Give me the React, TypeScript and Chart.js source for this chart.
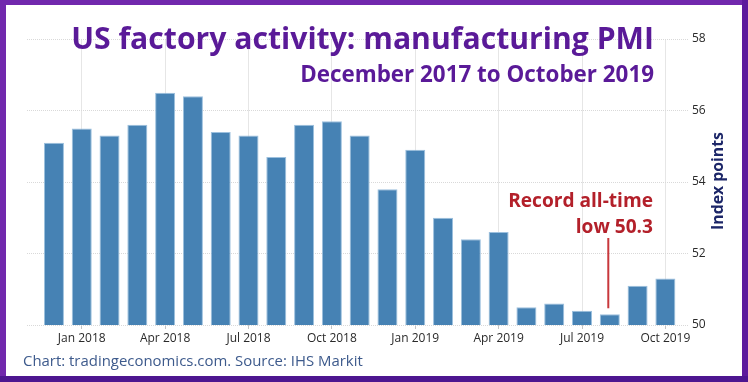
import React, { useEffect, useRef } from "react";
import { Chart, registerables } from "chart.js";

Chart.register(...registerables);

const monthLabels = [
  "Dec 2017", "Jan 2018", "Feb 2018", "Mar 2018", "Apr 2018", "May 2018", "Jun 2018",
  "Jul 2018", "Aug 2018", "Sep 2018", "Oct 2018", "Nov 2018", "Dec 2018", "Jan 2019",
  "Feb 2019", "Mar 2019", "Apr 2019", "May 2019", "Jun 2019", "Jul 2019", "Aug 2019",
  "Sep 2019", "Oct 2019",
];
const pmiValues = [
  55.1, 55.5, 55.3, 55.6, 56.5, 56.4, 55.4, 55.3, 54.7, 55.6, 55.7, 55.3, 53.8, 54.9,
  53.0, 52.4, 52.6, 50.5, 50.6, 50.4, 50.3, 51.1, 51.3,
];
const quarterTickIndices = [1, 4, 7, 10, 13, 16, 19, 22];
const yTickValues = [50, 52, 54, 56, 58];
const titleText = "US factory activity: manufacturing PMI";
const subtitleText = "December 2017 to October 2019";
const annotationLines = ["Record all-time", "low 50.3"];
const annotationIndex = 20;
const axisTitle = "Index points";
const footerText = "Chart: tradingeconomics.com. Source: IHS Markit";

const W = 748;
const H = 382;

function fitFont(ctx: CanvasRenderingContext2D, text: string, weight: string, family: string, targetWidth: number) {
  ctx.font = `${weight} 20px ${family}`;
  const w = ctx.measureText(text).width;
  const size = (20 * targetWidth) / w;
  return `${weight} ${size.toFixed(2)}px ${family}`;
}

const decorPlugin = {
  id: "decor",
  beforeDraw(chart: any) {
    const ctx = chart.ctx;
    ctx.save();
    ctx.fillStyle = "#ffffff";
    ctx.fillRect(0, 0, W, H);
    ctx.restore();
  },
  afterDraw(chart: any) {
    const ctx: CanvasRenderingContext2D = chart.ctx;
    const xs = chart.scales.x;
    const ys = chart.scales.y;
    ctx.save();
    const fam = "'Open Sans', sans-serif";

    // Title
    ctx.fillStyle = "#5a1a98";
    ctx.textAlign = "right";
    ctx.textBaseline = "alphabetic";
    ctx.font = fitFont(ctx, titleText, "bold", fam, 583);
    ctx.fillText(titleText, 654, 49);
    ctx.font = fitFont(ctx, subtitleText, "bold", fam, 354);
    ctx.fillText(subtitleText, 654, 82);

    // Annotation
    ctx.fillStyle = "#b3202a";
    ctx.font = fitFont(ctx, annotationLines[0], "bold", fam, 145);
    ctx.fillText(annotationLines[0], 653, 207);
    ctx.fillText(annotationLines[1], 653, 233);
    const ax = xs.getPixelForValue(annotationIndex) - 1.5;
    const ay = ys.getPixelForValue(pmiValues[annotationIndex]) - 6;
    ctx.strokeStyle = "#c8383c";
    ctx.lineWidth = 2;
    ctx.beginPath();
    ctx.moveTo(ax, 238);
    ctx.lineTo(ax, ay);
    ctx.stroke();

    // Axis title (rotated)
    ctx.save();
    ctx.translate(718, 181);
    ctx.rotate(-Math.PI / 2);
    ctx.fillStyle = "#1c2668";
    ctx.textAlign = "center";
    ctx.textBaseline = "middle";
    ctx.font = fitFont(ctx, axisTitle, "bold", fam, 98);
    ctx.fillText(axisTitle, 0, 0);
    ctx.restore();

    // Footer
    ctx.fillStyle = "#3d5a8c";
    ctx.textAlign = "left";
    ctx.textBaseline = "alphabetic";
    ctx.font = fitFont(ctx, footerText, "normal", fam, 340);
    ctx.fillText(footerText, 23, 366);

    // Border
    ctx.fillStyle = "#7128ad";
    ctx.fillRect(0, 0, W, 5);
    ctx.fillRect(0, 0, 6, H);
    ctx.fillStyle = "#5d1a9c";
    ctx.fillRect(W - 6, 0, 6, H);
    ctx.fillStyle = "#4d1690";
    ctx.fillRect(0, H - 6, W, 6);
    ctx.restore();
  },
};

export default function App() {
  const canvasRef = useRef<HTMLCanvasElement | null>(null);

  useEffect(() => {
    document.body.style.margin = "0";
    const canvas = canvasRef.current;
    if (!canvas) return;
    const chart = new Chart(canvas, {
      type: "bar",
      data: {
        datasets: [
          {
            label: "Manufacturing PMI",
            data: pmiValues.map((v, i) => ({ x: i, y: v })),
            backgroundColor: "#4682b4",
            borderColor: "#9cc0de",
            borderWidth: 1,
            borderSkipped: "bottom",
            categoryPercentage: 0.8,
            barPercentage: 0.9,
          },
        ],
      },
      options: {
        animation: false,
        responsive: false,
        maintainAspectRatio: false,
        devicePixelRatio: 1,
        layout: { padding: { left: 27, top: 39, right: 0, bottom: 0 } },
        plugins: {
          legend: { display: false },
          tooltip: { enabled: false },
          title: { display: false },
        },
        scales: {
          x: {
            type: "linear",
            offset: false,
            min: -0.97,
            max: 22.85,
            afterBuildTicks: (scale: any) => {
              scale.ticks = quarterTickIndices.map((v) => ({ value: v }));
            },
            afterFit: (scale: any) => {
              scale.height = 57;
            },
            grid: {
              offset: false,
              color: "#e6e6e6",
              lineWidth: 1,
              drawTicks: true,
              tickLength: 4,
              tickColor: "#c4c4c4",
            },
            border: { display: false },
            ticks: {
              autoSkip: false,
              maxRotation: 0,
              padding: 2,
              color: "#2a2a2a",
              font: { family: "'Open Sans', sans-serif", size: 12 },
              callback: (value: any) => monthLabels[Math.round(Number(value))] ?? "",
            },
          },
          y: {
            type: "linear",
            position: "right",
            min: 50,
            max: 58,
            afterBuildTicks: (scale: any) => {
              scale.ticks = yTickValues.map((v) => ({ value: v }));
            },
            afterFit: (scale: any) => {
              scale.width = 59;
            },
            grid: {
              color: "#d9d9d9",
              lineWidth: 1,
              drawTicks: false,
            },
            border: { display: false, dash: [1, 1] },
            ticks: {
              padding: 3,
              color: "#2a2a2a",
              font: { family: "'Open Sans', sans-serif", size: 12 },
            },
          },
        },
      },
      plugins: [decorPlugin],
    });
    return () => chart.destroy();
  }, []);

  return (
    <div style={{ width: W, height: H, position: "relative" }}>
      <canvas ref={canvasRef} width={W} height={H} style={{ display: "block", width: W, height: H }} />
    </div>
  );
}
